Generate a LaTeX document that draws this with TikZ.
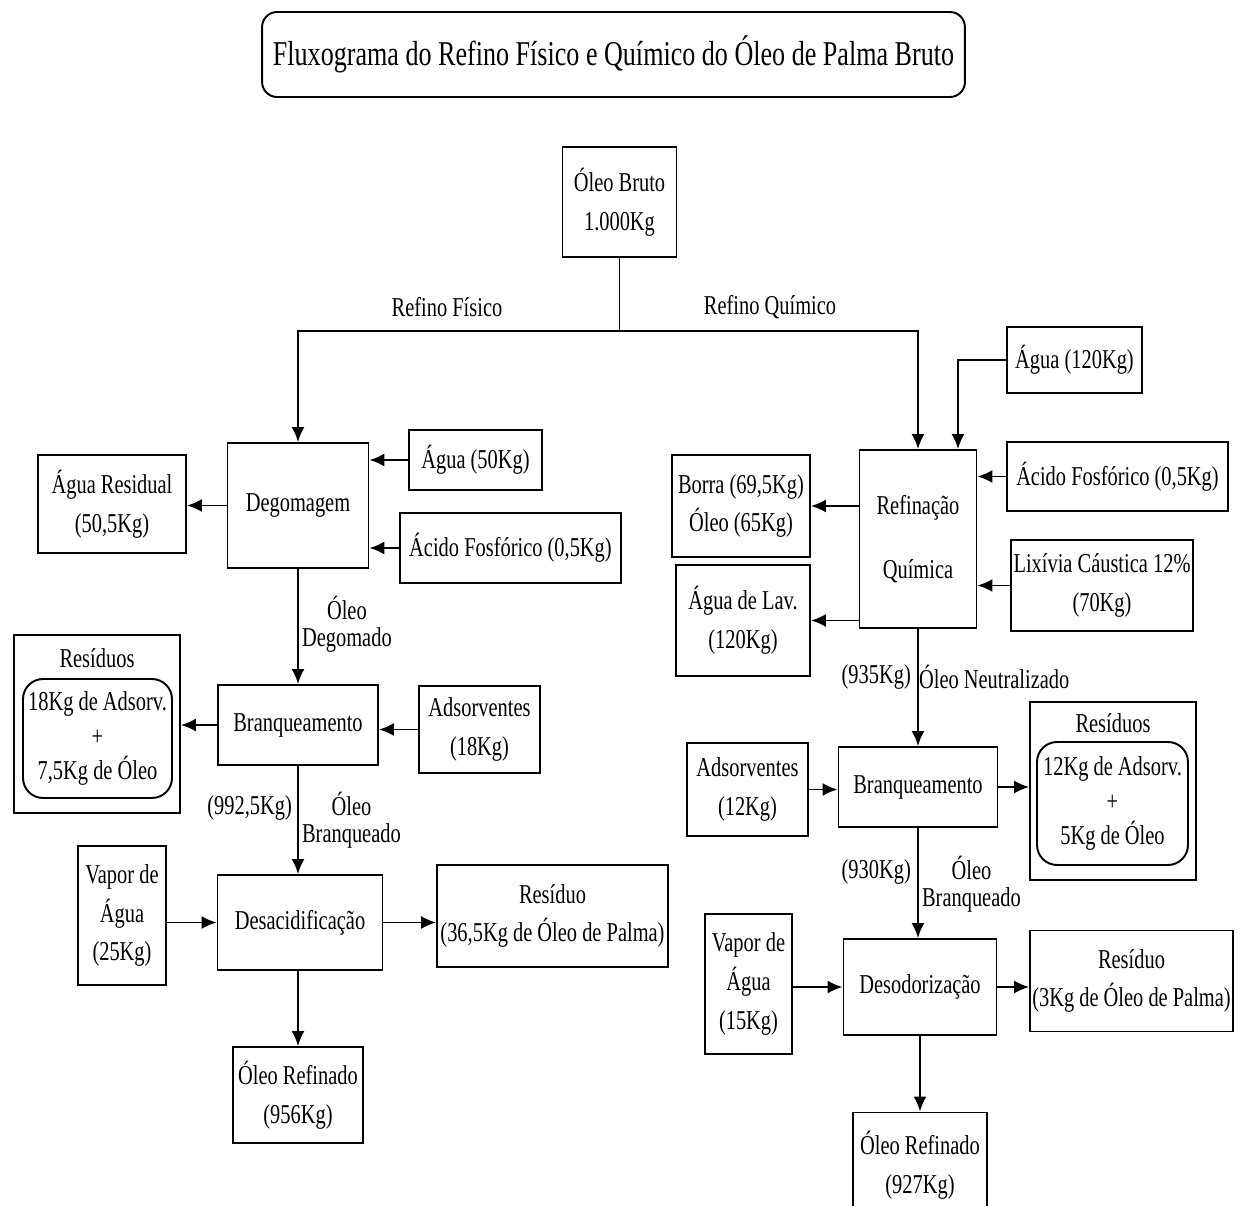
\documentclass[tikz,border=0pt]{standalone}
\usepackage{fontspec}
\setmainfont{Liberation Serif}[FakeStretch=0.75]
\usepackage{tikz}
\usetikzlibrary{arrows.meta, positioning}

\newcommand{\boxfont}{\fontsize{15.5}{22}\selectfont}
\newcommand{\flowfont}{\fontsize{15.5}{15.5}\selectfont}
\newcommand{\tightfont}{\fontsize{15.5}{19.5}\selectfont}
\newcommand{\titlefont}{\fontsize{19.8}{24}\selectfont}

\begin{document}
\begin{tikzpicture}[
    x=0.02cm, y=-0.02cm,
    font=\boxfont,
    block/.style={
        rectangle, draw, line width=1.1pt,
        inner sep=1pt, align=center
    },
    resbox/.style={block, rounded corners=0.4cm, font=\tightfont},
    flow/.style={align=center, inner sep=1pt, font=\flowfont},
    arrow/.style={-{Latex[length=0.3cm, width=0.26cm]}, line width=1.1pt},
    line/.style={line width=1.1pt},
]

\fill[white] (0,0) rectangle (1249,1206);
\clip (0,0) rectangle (1249,1206);

\node[block, rounded corners=0.3cm, minimum width=14.06cm, minimum height=1.7cm, font=\titlefont] (title) at (613.5,54.5) {Fluxograma do Refino Físico e Químico do Óleo de Palma Bruto};

\node[block, minimum width=2.28cm, minimum height=2.2cm] (bruto) at (619.5,202) {Óleo Bruto\\1.000Kg};
\coordinate (split) at (619.5,331);
\node (fisico) at (447,307) {Refino Físico};
\node (quimico) at (770,307) {Refino Químico};

\node[block, minimum width=2.82cm, minimum height=2.5cm] (degom) at (298,505.5) {Degomagem};
\node[block, minimum width=2.66cm, minimum height=1.2cm] (agua50) at (475.5,460) {Água (50Kg)};
\node[block, minimum width=4.42cm, minimum height=1.4cm] (acido1) at (510.5,548) {Ácido Fosfórico (0,5Kg)};
\node[block, minimum width=2.96cm, minimum height=1.96cm] (aguares) at (112,504) {Água Residual\\(50,5Kg)};

\node[block, minimum width=3.2cm, minimum height=1.6cm] (branq1) at (298,725) {Branqueamento};
\node[block, minimum width=2.42cm, minimum height=1.74cm] (adsorv1) at (479.5,729.5) {Adsorventes\\(18Kg)};
\node[block, minimum width=3.32cm, minimum height=3.56cm] (resid1) at (97,724) {};
\node (resid1lbl) at (97,658) {Resíduos};
\node[resbox, minimum width=2.98cm, minimum height=2.38cm] (resid1in) at (97.5,738.5) {18Kg de Adsorv.\\+\\7,5Kg de Óleo};

\node[block, minimum width=1.76cm, minimum height=2.78cm] (vapor1) at (122,915.5) {Vapor de\\Água\\(25Kg)};
\node[block, minimum width=3.3cm, minimum height=1.9cm] (desac) at (300,922.5) {Desacidificação};
\node[block, minimum width=4.62cm, minimum height=2.04cm] (residuo1) at (552.5,916) {Resíduo\\(36,5Kg de Óleo de Palma)};
\node[block, minimum width=2.6cm, minimum height=1.92cm] (refin1) at (298,1095) {Óleo Refinado\\(956Kg)};

\node[flow, anchor=west] (oleodeg) at (300,624) {Óleo\\Degomado};
\node[flow, anchor=east] (kg992) at (294,808) {(992,5Kg)};
\node[flow, anchor=west] (oleobr1) at (300,820) {Óleo\\Branqueado};

\node[block, minimum width=2.7cm, minimum height=1.32cm] (agua120) at (1074.5,360) {Água (120Kg)};
\node[block, minimum width=2.34cm, minimum height=3.56cm] (refq) at (918,539) {Refinação\\[0.52cm]Química};
\node[block, minimum width=4.42cm, minimum height=1.38cm] (acido2) at (1117.5,476.5) {Ácido Fosfórico (0,5Kg)};
\node[block, minimum width=3.64cm, minimum height=1.82cm] (lixivia) at (1102,585.5) {Lixívia Cáustica 12\%\\(70Kg)};
\node[block, minimum width=2.76cm, minimum height=2.04cm] (borra) at (741,506) {Borra (69,5Kg)\\Óleo (65Kg)};
\node[block, minimum width=2.68cm, minimum height=2.22cm] (agualav) at (743,620.5) {Água de Lav.\\(120Kg)};

\node[block, minimum width=3.18cm, minimum height=1.6cm] (branq2) at (918,787) {Branqueamento};
\node[block, minimum width=2.42cm, minimum height=1.86cm] (adsorv2) at (747.5,789.5) {Adsorventes\\(12Kg)};
\node[block, minimum width=3.32cm, minimum height=3.56cm] (resid2) at (1113,791) {};
\node (resid2lbl) at (1113,723) {Resíduos};
\node[resbox, minimum width=3.02cm, minimum height=2.46cm] (resid2in) at (1112.5,803.5) {12Kg de Adsorv.\\+\\5Kg de Óleo};

\node[block, minimum width=1.74cm, minimum height=2.8cm] (vapor2) at (748.5,984) {Vapor de\\Água\\(15Kg)};
\node[block, minimum width=3.06cm, minimum height=1.92cm] (desod) at (920,987) {Desodorização};
\node[block, minimum width=4.06cm, minimum height=2.02cm] (residuo2) at (1131.5,981) {Resíduo\\(3Kg de Óleo de Palma)};
\node[block, minimum width=2.68cm, minimum height=2.1cm] (refin2) at (920,1165) {Óleo Refinado\\(927Kg)};

\node[flow, anchor=east] (kg935) at (913,677) {(935Kg)};
\node[flow, anchor=west] (oleoneut) at (917,677) {Óleo Neutralizado};
\node[flow, anchor=east] (kg930) at (913,872) {(930Kg)};
\node[flow, anchor=west] (oleobr2) at (920,884) {Óleo\\Branqueado};

\draw[line] (bruto.south) -- (split);
\draw[arrow] (split) -| (degom.north);
\draw[arrow] (split) -| (refq.north);

\draw[arrow] (agua50.west) -- (agua50.west -| degom.east);
\draw[arrow] (acido1.west) -- (acido1.west -| degom.east);
\draw[arrow] (degom.west) -- (degom.west -| aguares.east);
\draw[arrow] (degom.south) -- (branq1.north);
\draw[arrow] (adsorv1.west) -- (adsorv1.west -| branq1.east);
\draw[arrow] (branq1.west) -- (branq1.west -| resid1.east);
\draw[arrow] (branq1.south) -- (branq1.south |- desac.north);
\draw[arrow] (desac.west -| vapor1.east) -- (desac.west);
\draw[arrow] (desac.east) -- (desac.east -| residuo1.west);
\draw[arrow] (desac.south -| refin1.north) -- (refin1.north);

\draw[arrow] (agua120.west) -| ([xshift=0.8cm]refq.north);
\draw[arrow] (acido2.west) -- (acido2.west -| refq.east);
\draw[arrow] (lixivia.west) -- (lixivia.west -| refq.east);
\draw[arrow] (borra.east -| refq.west) -- (borra.east);
\draw[arrow] (agualav.east -| refq.west) -- (agualav.east);
\draw[arrow] (refq.south) -- (branq2.north);
\draw[arrow] (adsorv2.east) -- (adsorv2.east -| branq2.west);
\draw[arrow] (branq2.east) -- (branq2.east -| resid2.west);
\draw[arrow] (branq2.south) -- (branq2.south |- desod.north);
\draw[arrow] (desod.west -| vapor2.east) -- (desod.west);
\draw[arrow] (desod.east) -- (desod.east -| residuo2.west);
\draw[arrow] (desod.south) -- (refin2.north);

\end{tikzpicture}
\end{document}
